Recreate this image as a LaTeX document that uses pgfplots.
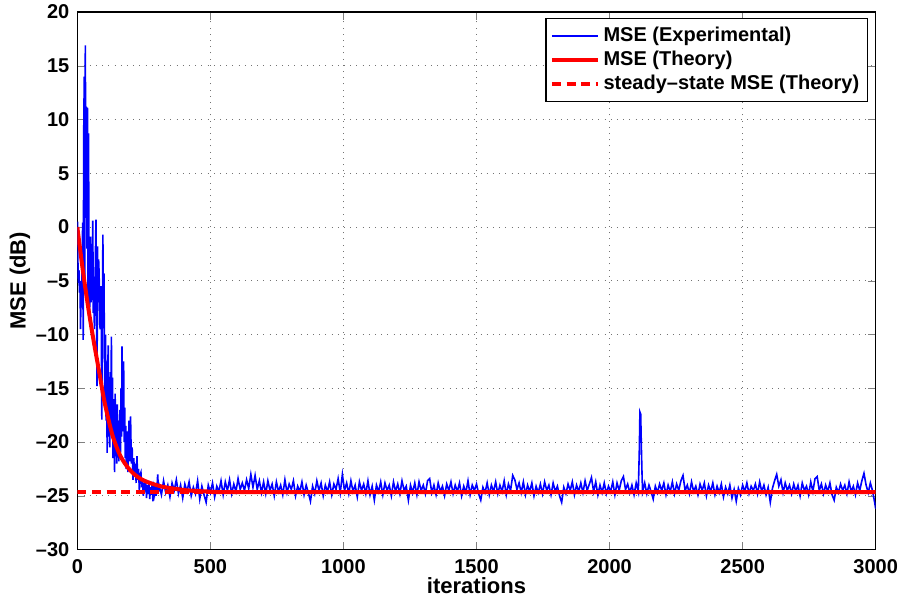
\documentclass[border=0pt]{standalone}
\usepackage{pgfplots}
\pgfplotsset{compat=1.18}
\usepackage{fontspec}
\setmainfont{Liberation Sans}
\definecolor{mblue}{RGB}{0,0,255}
\definecolor{mred}{RGB}{255,0,0}
\begin{document}
\begin{tikzpicture}
\begin{axis}[
  scale only axis,
  width=399pt, height=268.7pt,
  xmin=0, xmax=3000, ymin=-30, ymax=20,
  xtick={0,500,...,3000}, ytick={-30,-25,...,20},
  xticklabels={0,500,1000,1500,2000,2500,3000},
  yticklabels={\textendash30,\textendash25,\textendash20,\textendash15,\textendash10,\textendash5,0,5,10,15,20},
  tick label style={font=\fontsize{10}{12}\selectfont\bfseries},
  label style={font=\fontsize{11}{13}\selectfont\bfseries},
  xticklabel style={yshift=-1.5pt},
  yticklabel style={xshift=-0.5pt},
  xlabel={iterations}, ylabel={MSE (dB)},
  xlabel style={yshift=5pt},
  ylabel style={yshift=-4pt},
  tick align=inside, major tick length=4pt,
  xtick pos=both, ytick pos=both,
  grid=major,
  major grid style={black!55, line width=0.4pt, dash pattern=on 0.5pt off 2.6pt},
  axis line style={black, line width=0.6pt},
  legend cell align=left,
  legend style={at={(1,1)}, anchor=north east, xshift=-3.9pt, yshift=-3pt,
    draw=black, line width=0.6pt, fill=white,
    font=\fontsize{10}{12}\selectfont\bfseries, row sep=-0.7pt,
    inner xsep=2pt, inner ysep=2.2pt},
  legend image code/.code={\draw[#1] (0cm,0cm) -- (0.8cm,0cm);},
]
\addplot[mblue, line width=0.8pt] coordinates {
(1,0.5) (2,-3.0) (4,-5.2) (6,-4.0) (8,-6.1) (10,-5.0) (12,-9.5) (14,-6.0) (16,-7.5) (18,-3.3)
(20,0.4) (22,-10.5) (24,8.7) (26,14.0) (28,-5.0) (30,16.9) (32,3.0) (34,11.2) (36,-2.0) (38,11.1)
(40,-7.8) (42,8.7) (44,-4.0) (46,-8.0) (48,-5.5) (50,-0.9) (52,-7.0) (54,-3.0) (56,-6.5) (58,0.6)
(60,-8.0) (62,-4.6) (64,-9.5) (66,-7.5) (68,-2.5) (70,0.7) (72,-6.0) (74,-14.8) (76,-1.8) (78,-7.0)
(80,-3.0) (82,-4.4) (84,-9.0) (86,-9.5) (88,-5.5) (90,-8.0) (92,-17.9) (94,-10.0) (96,-0.7) (98,-8.0)
(100,-4.3) (102,-12.0) (104,-16.3) (106,-10.0) (108,-18.0) (110,-12.5) (112,-21.0) (114,-14.0) (116,-11.0) (118,-19.5)
(120,-15.0) (122,-20.5) (124,-13.5) (126,-17.0) (128,-10.2) (130,-18.5) (132,-14.0) (134,-21.5) (136,-16.0) (138,-20.0)
(140,-22.8) (142,-15.5) (144,-19.0) (146,-17.5) (148,-22.0) (150,-16.5) (152,-20.5) (154,-18.0) (156,-21.8) (158,-19.0)
(160,-17.0) (162,-21.0) (164,-15.0) (166,-19.5) (168,-11.1) (170,-16.5) (172,-19.0) (174,-12.5) (176,-20.0) (178,-16.8)
(180,-21.5) (182,-18.5) (184,-22.5) (186,-20.0) (188,-19.0) (190,-22.8) (192,-21.0) (194,-18.0) (196,-21.8) (198,-20.5)
(200,-17.6) (203,-22.0) (206,-20.5) (209,-23.5) (212,-21.5) (215,-23.0) (218,-22.0) (221,-23.8) (224,-21.3) (227,-23.5)
(230,-22.5) (233,-24.5) (236,-23.0) (239,-22.8) (242,-24.2) (245,-23.5) (248,-25.0) (251,-23.8) (254,-24.6) (257,-23.5)
(260,-25.2) (263,-24.0) (266,-24.8) (269,-23.6) (272,-25.3) (275,-24.2) (278,-24.9) (281,-23.7) (284,-25.5) (287,-24.3)
(290,-24.8) (293,-23.9) (296,-25.0) (299,-24.4) (302,-23.0) (305,-24.6)
(308,-24.1) (316,-24.9) (324,-23.6) (332,-24.7) (340,-24.0) (348,-25.1) (356,-23.8) (364,-24.5) (372,-23.5) (380,-24.8)
(388,-24.0) (396,-25.2) (404,-23.9) (412,-24.6) (420,-23.7) (428,-25.0) (436,-24.2) (444,-24.8) (452,-23.6) (460,-25.3)
(468,-24.1) (476,-24.9) (484,-25.6) (492,-24.0) (500,-24.7) (508,-23.8) (516,-25.1) (524,-24.1) (532,-24.6) (540,-23.6)
(548,-24.9) (556,-23.7) (564,-24.5) (572,-23.5) (580,-24.8) (588,-23.9) (596,-24.6) (604,-23.4) (612,-24.4) (620,-23.8)
(628,-24.5) (636,-23.5) (644,-24.3) (652,-23.0) (660,-24.2) (668,-23.1) (676,-24.4) (684,-23.6) (692,-24.7) (700,-23.7)
(708,-24.8) (716,-23.6) (724,-24.5) (732,-23.9) (740,-25.0) (748,-23.7) (756,-24.6) (764,-24.0) (772,-24.9) (780,-23.5)
(788,-24.7) (796,-23.9) (804,-24.4) (812,-23.6) (820,-25.0) (828,-24.1) (836,-24.6) (844,-23.7) (852,-24.9) (860,-24.0)
(868,-24.7) (876,-25.5) (884,-24.1) (892,-24.8) (900,-23.6) (908,-24.5) (916,-23.8) (924,-25.0) (932,-24.0) (940,-24.6)
(948,-23.7) (956,-24.9) (964,-23.9) (972,-24.4) (980,-23.4) (988,-24.7) (996,-23.0) (1004,-24.5) (1012,-23.8) (1020,-24.8)
(1028,-23.6) (1036,-24.6) (1044,-24.0) (1052,-25.1) (1060,-23.7) (1068,-24.5) (1076,-23.9) (1084,-24.8) (1092,-23.6) (1100,-24.9)
(1108,-24.1) (1116,-25.4) (1124,-24.0) (1132,-24.6) (1140,-23.7) (1148,-24.9) (1156,-23.8) (1164,-24.5) (1172,-24.0) (1180,-25.0)
(1188,-23.7) (1196,-24.6) (1204,-23.9) (1212,-24.8) (1220,-23.6) (1228,-24.5) (1236,-24.1) (1244,-25.4) (1252,-24.0) (1260,-24.7)
(1268,-23.8) (1276,-24.9) (1284,-23.7) (1292,-24.5) (1300,-24.0) (1308,-24.8) (1316,-23.6) (1324,-23.4) (1332,-24.7) (1340,-24.0)
(1348,-24.9) (1356,-23.8) (1364,-24.6) (1372,-24.1) (1380,-25.0) (1388,-23.9) (1396,-24.5) (1404,-23.7) (1412,-24.8) (1420,-24.0)
(1428,-24.6) (1436,-23.8) (1444,-25.0) (1452,-24.1) (1460,-24.7) (1468,-23.6) (1476,-24.9) (1484,-24.0) (1492,-24.5) (1500,-23.9)
(1508,-24.8) (1516,-25.4) (1524,-24.2) (1532,-24.7) (1540,-23.8) (1548,-24.9) (1556,-24.0) (1564,-24.6) (1572,-23.7) (1580,-24.8)
(1588,-24.0) (1596,-24.6) (1604,-23.6) (1612,-24.9) (1620,-23.9) (1628,-24.5) (1636,-23.1) (1644,-23.5) (1652,-24.4) (1660,-23.8)
(1668,-24.7) (1676,-23.7) (1684,-24.9) (1692,-24.0) (1700,-24.6) (1708,-23.8) (1716,-25.0) (1724,-24.1) (1732,-24.7) (1740,-23.9)
(1748,-24.8) (1756,-23.7) (1764,-24.5) (1772,-24.0) (1780,-24.9) (1788,-23.8) (1796,-24.6) (1804,-24.1) (1812,-25.0) (1820,-25.6)
(1828,-24.2) (1836,-24.8) (1844,-23.9) (1852,-24.5) (1860,-23.7) (1868,-24.9) (1876,-24.0) (1884,-24.6) (1892,-23.8) (1900,-24.7)
(1908,-23.6) (1916,-24.5) (1924,-23.9) (1932,-23.3) (1940,-24.6) (1948,-23.7) (1956,-24.9) (1964,-24.0) (1972,-24.7) (1980,-23.8)
(1988,-24.8) (1996,-24.1) (2004,-24.6) (2012,-23.7) (2020,-24.9) (2028,-23.8) (2036,-24.5) (2044,-23.6) (2052,-23.2) (2060,-24.4)
(2068,-23.9) (2076,-24.7) (2084,-24.0) (2092,-24.9) (2100,-23.8) (2108,-24.6)
(2112,-20.5) (2114,-17.2) (2117,-17.4) (2120,-21.0) (2122,-23.0) (2124,-24.6)
(2132,-23.8) (2140,-24.8) (2148,-24.0) (2156,-24.6) (2164,-25.3) (2172,-24.1) (2180,-24.7) (2188,-23.9) (2196,-24.5) (2204,-23.8)
(2212,-24.9) (2220,-24.0) (2228,-24.6) (2236,-23.7) (2244,-24.8) (2252,-23.9) (2260,-24.5) (2268,-23.6) (2276,-23.1) (2284,-24.5)
(2292,-24.0) (2300,-24.8) (2308,-23.7) (2316,-24.6) (2324,-24.1) (2332,-24.9) (2340,-23.9) (2348,-24.5) (2356,-23.8) (2364,-25.0)
(2372,-24.0) (2380,-24.6) (2388,-23.8) (2396,-24.9) (2404,-24.1) (2412,-24.7) (2420,-23.9) (2428,-25.1) (2436,-24.2) (2444,-24.8)
(2452,-24.0) (2460,-25.2) (2468,-24.4) (2476,-25.5) (2484,-24.3) (2492,-24.9) (2500,-24.0) (2508,-24.6) (2516,-23.8) (2524,-24.8)
(2532,-24.1) (2540,-24.5) (2548,-23.9) (2556,-24.8) (2564,-23.7) (2572,-24.6) (2580,-24.0) (2588,-24.9) (2596,-24.2) (2604,-25.6)
(2612,-24.3) (2620,-23.6) (2628,-23.0) (2636,-24.1) (2644,-23.5) (2652,-24.7) (2660,-23.8) (2668,-24.5) (2676,-24.0) (2684,-24.8)
(2692,-23.9) (2700,-24.6) (2708,-24.0) (2716,-25.0) (2724,-23.8) (2732,-24.5) (2740,-24.1) (2748,-24.9) (2756,-23.7) (2764,-24.6)
(2772,-23.4) (2780,-23.2) (2788,-24.5) (2796,-23.9) (2804,-24.8) (2812,-24.0) (2820,-24.6) (2828,-23.8) (2836,-24.9) (2844,-25.4)
(2852,-24.2) (2860,-24.7) (2868,-23.9) (2876,-24.5) (2884,-24.0) (2892,-24.8) (2900,-23.7) (2908,-24.6) (2916,-24.1) (2924,-24.9)
(2932,-23.8) (2940,-24.5) (2948,-23.6) (2956,-22.9) (2964,-24.0) (2972,-24.7) (2980,-23.8) (2988,-24.5) (2996,-25.6) (3000,-26.2)
};
\addlegendentry{MSE (Experimental)}
\addplot[mred, line width=2pt, smooth] coordinates {
(0,0) (20,-3.9) (41,-7.5) (60,-10.4) (83,-13.6) (100,-16.0) (117,-17.9) (135,-19.6) (160,-21.2) (185,-22.2)
(210,-22.9) (240,-23.45) (273,-23.8) (320,-24.15) (370,-24.35) (420,-24.5) (500,-24.6) (700,-24.65) (3000,-24.65)
};
\addlegendentry{MSE (Theory)}
\addplot[mred, line width=2pt, dash pattern=on 4.5pt off 2.8pt] coordinates {(0,-24.65) (3000,-24.65)};
\addlegendentry{steady\textendash state MSE (Theory)}
\end{axis}
\pgfresetboundingbox
\useasboundingbox (-38.65pt,-26.85pt) rectangle (411.15pt,274.7pt);
\end{tikzpicture}
\end{document}
